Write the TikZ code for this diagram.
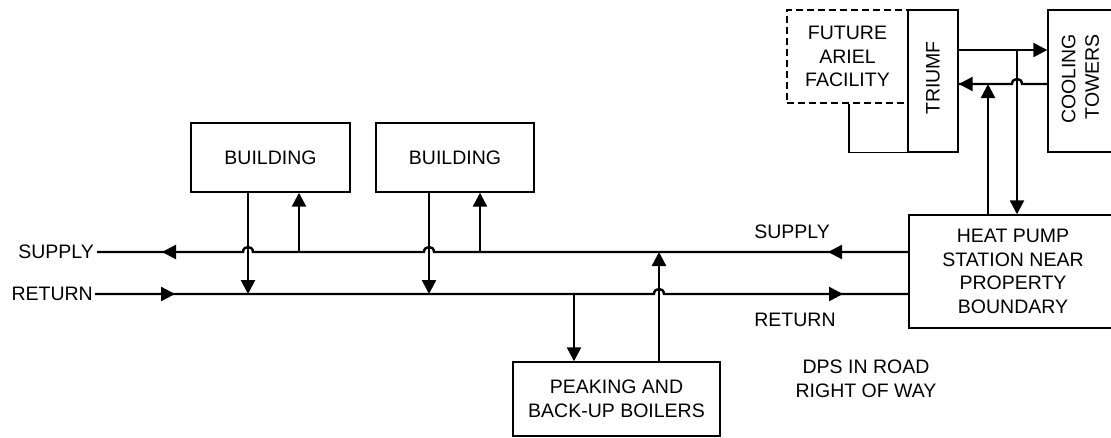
\documentclass[tikz,border=0pt]{standalone}
\usepackage{fontspec}
\setmainfont{Liberation Sans}
\usetikzlibrary{arrows.meta}
\begin{document}
\begin{tikzpicture}[x=1pt,y=-1pt,
  box/.style={draw,line width=1.4pt,inner sep=0pt,align=center},
  dbox/.style={box,dash pattern=on 7pt off 4pt},
  pipe/.style={line width=2.4pt},
  arr/.style={pipe,-{Triangle[length=14pt,width=14pt]}},
  lbl/.style={inner sep=0pt,align=center},
  every node/.append style={font=\fontsize{19.5}{23.5}\selectfont}]
\useasboundingbox (0,0) rectangle (1111,437);
\clip (0,0) rectangle (1111,437);
% boxes
\node[box,minimum width=159pt,minimum height=69pt] (b1) at (270.5,157.5) {BUILDING};
\node[box,minimum width=158pt,minimum height=69pt] (b2) at (455,157.5) {BUILDING};
\node[box,minimum width=207pt,minimum height=74pt] (peak) at (616.5,399) {PEAKING AND\\BACK-UP BOILERS};
\node[box,minimum width=208pt,minimum height=113pt] (hp) at (1013,271.5) {HEAT PUMP\\STATION NEAR\\PROPERTY\\BOUNDARY};
\node[dbox,minimum width=121pt,minimum height=93pt] (fut) at (847.5,56.5) {FUTURE\\ARIEL\\FACILITY};
\node[box,minimum width=50pt,minimum height=142pt] (triumf) at (933,81) {};
\node[lbl,rotate=90] (triumft) at (933,78) {TRIUMF};
\node[box,minimum width=66pt,minimum height=142pt] (cool) at (1081,81) {};
\node[lbl,rotate=90,align=right] (coolt) at (1080.5,79) {COOLING\\TOWERS};
% labels
\node[lbl,inner sep=3pt,anchor=east] (sl) at (97,252) {SUPPLY};
\node[lbl,inner sep=2pt,anchor=east] (rl) at (95,294) {RETURN};
\node[lbl] (sr) at (792,232) {SUPPLY};
\node[lbl] (rr) at (795,320) {RETURN};
\node[lbl] (dps) at (866,379) {DPS IN ROAD\\RIGHT OF WAY};
% reference coordinates
\coordinate (sy) at (0,252);
\coordinate (ry) at (0,294);
\coordinate (tcy) at (0,50);
\coordinate (cty) at (0,84);
\coordinate (x1) at (248,0);
\coordinate (x2) at (299,0);
\coordinate (x3) at (429,0);
\coordinate (x4) at (480,0);
\coordinate (x5) at (574,0);
\coordinate (x6) at (659,0);
\coordinate (x7) at (988,0);
\coordinate (x8) at (1017,0);
\coordinate (x9) at (849,0);
% solid L from future facility to TRIUMF
\draw[line width=1.4pt] (fut.south -| x9) |- (triumf.south west);
% supply main
\draw[pipe] (hp.west|-sy) -- (434,252) .. controls (434,245.3) and (424,245.3) .. (424,252)
  -- (253,252) .. controls (253,245.3) and (243,245.3) .. (243,252) -- (sl.east|-sy);
\draw[arr] (hp.west|-sy) -- (828,252);
\draw[arr] (200,252) -- (162,252);
% return main
\draw[pipe] (rl.east|-ry) -- (654,294) .. controls (654,287.3) and (664,287.3) .. (664,294) -- (hp.west|-ry);
\draw[arr] (rl.east|-ry) -- (175,294);
\draw[arr] (700,294) -- (843,294);
% building branches
\draw[arr] (b1.south -| x1) -- (x1 |- ry);
\draw[arr] (x2 |- sy) -- (b1.south -| x2);
\draw[arr] (b2.south -| x3) -- (x3 |- ry);
\draw[arr] (x4 |- sy) -- (b2.south -| x4);
% boilers
\draw[arr] (x5 |- ry) -- (peak.north -| x5);
\draw[arr] (peak.north -| x6) -- (x6 |- sy);
% heat pump to TRIUMF / cooling towers
\draw[arr] (hp.north -| x7) -- (x7 |- cty);
\draw[arr] (x8 |- tcy) -- (hp.north -| x8);
\draw[arr] (triumf.east |- tcy) -- (cool.west |- tcy);
\draw[pipe] (cool.west |- cty) -- (1022,84) .. controls (1022,77.3) and (1012,77.3) .. (1012,84) -- (triumf.east |- cty);
\draw[arr] (1000,84) -- (triumf.east |- cty);
\end{tikzpicture}
\end{document}
